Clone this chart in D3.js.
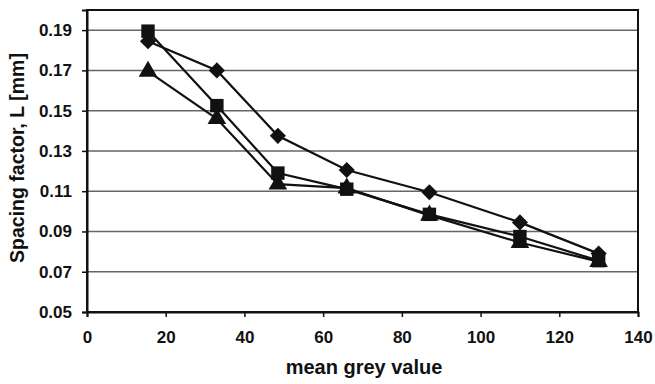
<!DOCTYPE html>
<html>
<head>
<meta charset="utf-8">
<script src="https://cdn.jsdelivr.net/npm/d3@7"></script>
<style>
  body { margin: 0; background: #fff; }
  text { font-family: "Liberation Sans", Arial, sans-serif; font-weight: bold; fill: #111; }
</style>
</head>
<body>
<div id="chart"></div>
<script>
// values
const greyValues = [15.5, 33, 48.5, 66, 87, 110, 130];
const diamondSeries = [0.1845, 0.170, 0.1375, 0.1205, 0.1095, 0.0945, 0.079];
const squareSeries = [0.1895, 0.1525, 0.1190, 0.111, 0.0985, 0.0875, 0.0755];
const triangleSeries = [0.1695, 0.146, 0.1135, 0.1115, 0.098, 0.0845, 0.075];
const xTicks = [0, 20, 40, 60, 80, 100, 120, 140];
const yTicks = [0.05, 0.07, 0.09, 0.11, 0.13, 0.15, 0.17, 0.19];

const width = 655, height = 384;
const margin = {top: 10, right: 17, bottom: 72, left: 87};

const svg = d3.select("#chart").append("svg")
  .attr("width", width)
  .attr("height", height);

const x = d3.scaleLinear().domain([0, 140]).range([margin.left, width - margin.right]);
const y = d3.scaleLinear().domain([0.05, 0.20]).range([height - margin.bottom, margin.top]);

// gridlines
svg.append("g").selectAll("line")
  .data(yTicks.filter(d => d > 0.05))
  .enter().append("line")
  .attr("x1", x(0)).attr("x2", x(140))
  .attr("y1", d => y(d)).attr("y2", d => y(d))
  .attr("stroke", "#666")
  .attr("stroke-width", 1.5);

// frame
svg.append("rect")
  .attr("x", x(0)).attr("y", y(0.20))
  .attr("width", x(140) - x(0))
  .attr("height", y(0.05) - y(0.20))
  .attr("fill", "none")
  .attr("stroke", "#111")
  .attr("stroke-width", 2);

// axes
const xAxis = svg.append("g")
  .attr("transform", `translate(0,${y(0.05)})`)
  .call(d3.axisBottom(x).tickValues(xTicks).tickSize(5).tickPadding(14).tickFormat(d3.format("d")));
const yAxis = svg.append("g")
  .attr("transform", `translate(${x(0)},0)`)
  .call(d3.axisLeft(y).tickValues(yTicks).tickSize(5).tickPadding(10).tickFormat(d3.format(".2f")));

[xAxis, yAxis].forEach(a => {
  a.select(".domain").attr("stroke", "#111").attr("stroke-width", 2);
  a.selectAll(".tick line").attr("stroke", "#111").attr("stroke-width", 1.5);
  a.selectAll(".tick text").style("font-size", "17px").attr("fill", "#111");
});

// axis titles
svg.append("text")
  .attr("x", 364)
  .attr("y", 374)
  .attr("text-anchor", "middle")
  .style("font-size", "20px")
  .text("mean grey value");

svg.append("text")
  .attr("transform", `translate(24,158) rotate(-90)`)
  .attr("text-anchor", "middle")
  .style("font-size", "19.5px")
  .text("Spacing factor, L [mm]");

// series
const line = d3.line()
  .x((d, i) => x(greyValues[i]))
  .y(d => y(d));

const series = [
  {vals: triangleSeries, sym: d3.symbolTriangle, size: 150, rot: 0},
  {vals: diamondSeries, sym: d3.symbolSquare, size: 130, rot: 45},
  {vals: squareSeries, sym: d3.symbolSquare, size: 180, rot: 0}
];

series.forEach(s => {
  svg.append("path")
    .attr("d", line(s.vals))
    .attr("fill", "none")
    .attr("stroke", "#111")
    .attr("stroke-width", 2.2);
});

series.forEach(s => {
  svg.append("g").selectAll("path")
    .data(s.vals)
    .enter().append("path")
    .attr("transform", (d, i) => `translate(${x(greyValues[i])},${y(d)}) rotate(${s.rot})`)
    .attr("d", d3.symbol().type(s.sym).size(s.size))
    .attr("fill", "#111");
});
</script>
</body>
</html>
